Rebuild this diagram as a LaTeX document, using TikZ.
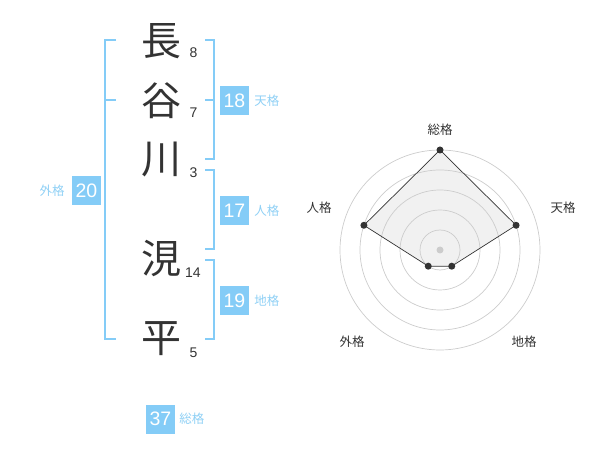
\documentclass[tikz,border=0pt]{standalone}
\usepackage{fontspec}
\setmainfont{Liberation Sans}
\newfontfamily\jpfont{Noto Sans CJK JP}
\usetikzlibrary{positioning}
\definecolor{kakublue}{HTML}{84CCF7}
\definecolor{kakutext}{HTML}{8FD0F5}
\definecolor{inkgray}{HTML}{333333}

\begin{document}
\begin{tikzpicture}[
		x=1pt, y=-1pt,
		kanji/.style = {font=\jpfont\fontsize{40}{40}\selectfont, text=inkgray, inner sep=0pt},
		strokes/.style = {font=\fontsize{14}{14}\selectfont, text=inkgray, inner sep=0pt},
		scorebox/.style = {
			fill=kakublue, text=white,
			minimum width=29pt, minimum height=29pt,
			inner sep=0pt, font=\fontsize{19.5}{19.5}\selectfont
		},
		kaku/.style = {font=\jpfont\fontsize{12.5}{12.5}\selectfont, text=kakutext, inner sep=0pt},
		bracket/.style = {draw=kakublue, line width=1.5pt},
		ring/.style = {draw=black!20, line width=0.7pt},
		axislabel/.style = {font=\jpfont\fontsize{12.5}{12.5}\selectfont, text=inkgray, inner sep=0pt},
		dot/.style = {circle, fill=inkgray, minimum size=7pt, inner sep=0pt}
		]
		\useasboundingbox (0,0) rectangle (600,470);
		% name, one character per line
		\node[kanji] (k1) at (161,41) {長};
		\node[kanji] (k2) at (161,101) {谷};
		\node[kanji] (k3) at (161,160) {川};
		\node[kanji] (k4) at (161,259) {涀};
		\node[kanji] (k5) at (161,339) {平};
		\node[strokes] (n1) at (193.5,53) {8};
		\node[strokes] (n2) at (193.5,113) {7};
		\node[strokes] (n3) at (193.5,173) {3};
		\node[strokes] (n4) at (193,273) {14};
		\node[strokes] (n5) at (193.5,353) {5};
		% brackets
		\draw[bracket] (116,40) -- (105,40) -- (105,339) -- (116,339);
		\draw[bracket] (105,100) -- (116,100);
		\draw[bracket] (205,40) -- (214,40) -- (214,159) -- (205,159);
		\draw[bracket] (205,100) -- (214,100);
		\draw[bracket] (205,170) -- (214,170) -- (214,249) -- (205,249);
		\draw[bracket] (205,260) -- (214,260) -- (214,339) -- (205,339);
		% scores
		\node[scorebox] (ten) at (234.5,100.5) {18};
		\node[kaku, right=5pt of ten] (tenl) {天格};
		\node[scorebox] (jin) at (234.5,210.5) {17};
		\node[kaku, right=5pt of jin] (jinl) {人格};
		\node[scorebox] (chi) at (234.5,300.5) {19};
		\node[kaku, right=5pt of chi] (chil) {地格};
		\node[scorebox] (gai) at (86.5,190.5) {20};
		\node[kaku, left=7pt of gai] (gail) {外格};
		\node[scorebox] (sou) at (160.5,419) {37};
		\node[kaku, right=4pt of sou] (soul) {総格};
		% radar chart
		\coordinate (c) at (440,250);
		\foreach \name/\ang/\val in {sou/-90/100, ten/-18/80, chi/54/20, gai/126/20, jin/198/80}
			\coordinate (p-\name) at ([shift={(c)}] \ang:\val);
		\fill[black!8, fill opacity=0.7] (p-sou) -- (p-ten) -- (p-chi) -- (p-gai) -- (p-jin) -- cycle;
		\foreach \r in {20,40,...,100}
			\draw[ring] (c) circle (\r pt);
		\draw[inkgray, line width=0.7pt] (p-sou) -- (p-ten) -- (p-chi) -- (p-gai) -- (p-jin) -- cycle;
		\node[circle, fill=black!20, minimum size=7pt, inner sep=0pt] (hub) at (c) {};
		\foreach \name in {sou,ten,chi,gai,jin}
			\node[dot] (d-\name) at (p-\name) {};
		\node[axislabel] (a-sou) at (440,130) {総格};
		\node[axislabel] (a-ten) at (563,208) {天格};
		\node[axislabel] (a-jin) at (319,208) {人格};
		\node[axislabel] (a-gai) at (352,342) {外格};
		\node[axislabel] (a-chi) at (524,342) {地格};
	\end{tikzpicture}
\end{document}
